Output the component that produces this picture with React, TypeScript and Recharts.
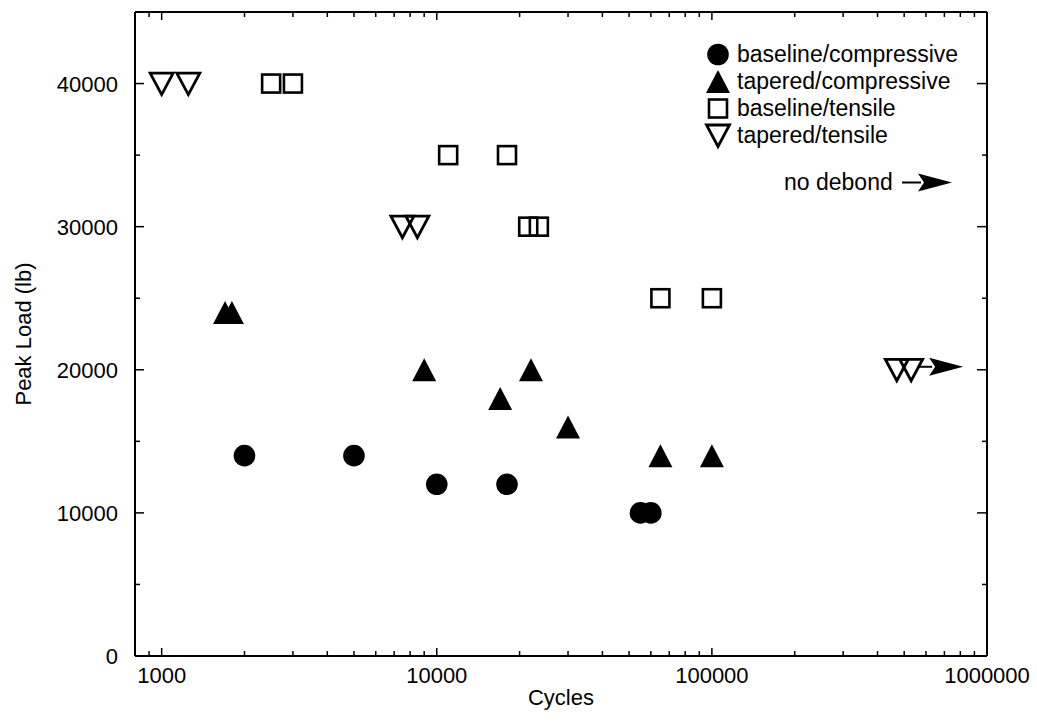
import React from 'react';
import { ScatterChart, Scatter, XAxis, YAxis, Legend } from 'recharts';

// fatigue results: cycles to debond vs peak load
const baselineCompressive = [
  { cycles: 2000, load: 14000 },
  { cycles: 5000, load: 14000 },
  { cycles: 10000, load: 12000 },
  { cycles: 18000, load: 12000 },
  { cycles: 55000, load: 10000 },
  { cycles: 60000, load: 10000 },
];

const taperedCompressive = [
  { cycles: 1700, load: 24000 },
  { cycles: 1800, load: 24000 },
  { cycles: 9000, load: 20000 },
  { cycles: 17000, load: 18000 },
  { cycles: 22000, load: 20000 },
  { cycles: 30000, load: 16000 },
  { cycles: 65000, load: 14000 },
  { cycles: 100000, load: 14000 },
];

const baselineTensile = [
  { cycles: 2500, load: 40000 },
  { cycles: 3000, load: 40000 },
  { cycles: 11000, load: 35000 },
  { cycles: 18000, load: 35000 },
  { cycles: 21500, load: 30000 },
  { cycles: 23500, load: 30000 },
  { cycles: 65000, load: 25000 },
  { cycles: 100000, load: 25000 },
];

// runout = specimen stopped without debonding
const taperedTensile = [
  { cycles: 1000, load: 40000 },
  { cycles: 1250, load: 40000 },
  { cycles: 7500, load: 30000 },
  { cycles: 8500, load: 30000 },
  { cycles: 470000, load: 20000 },
  { cycles: 530000, load: 20000, runout: true },
];

const xMajorTicks = [1000, 10000, 100000, 1000000];
const xMinorTicks = [
  900,
  2000, 3000, 4000, 5000, 6000, 7000, 8000, 9000,
  20000, 30000, 40000, 50000, 60000, 70000, 80000, 90000,
  200000, 300000, 400000, 500000, 600000, 700000, 800000, 900000,
];
const yMajorTicks = [0, 10000, 20000, 30000, 40000];
const yMinorTicks = [5000, 15000, 25000, 35000];

const xTicks = [...xMinorTicks, ...xMajorTicks].sort((a, b) => a - b);
const yTicks = [...yMinorTicks, ...yMajorTicks].sort((a, b) => a - b);

const FONT = '"Liberation Sans", Arial, Helvetica, sans-serif';
const INK = '#000';

const Dot = ({ cx, cy }: any) => <circle cx={cx} cy={cy} r={10.8} fill={INK} />;

const UpTriangle = ({ cx, cy }: any) => (
  <polygon
    points={`${cx - 12},${cy + 11.5} ${cx + 12},${cy + 11.5} ${cx},${cy - 11.5}`}
    fill={INK}
  />
);

const OpenSquare = ({ cx, cy }: any) => (
  <rect x={cx - 9} y={cy - 9} width={18} height={18} fill="none" stroke={INK} strokeWidth={2.6} />
);

// shaft + swept head, pointing right
const Arrow = ({ x, y, shaft }: { x: number; y: number; shaft: number }) => {
  const h = x + shaft;
  return (
    <g>
      <line x1={x} y1={y} x2={h} y2={y} stroke={INK} strokeWidth={2} />
      <polygon points={`${h - 3},${y - 9} ${h + 31},${y} ${h - 3},${y + 9} ${h + 3},${y}`} fill={INK} />
    </g>
  );
};

const DownTriangle = ({ cx, cy, payload }: any) => (
  <g>
    <polygon
      points={`${cx - 11.5},${cy - 10.5} ${cx + 11.5},${cy - 10.5} ${cx},${cy + 11}`}
      fill="none"
      stroke={INK}
      strokeWidth={2.8}
    />
    {payload && payload.runout && <Arrow x={cx + 8} y={cy - 3} shaft={13} />}
  </g>
);

const series = [
  { name: 'baseline/compressive', data: baselineCompressive, shape: Dot },
  { name: 'tapered/compressive', data: taperedCompressive, shape: UpTriangle },
  { name: 'baseline/tensile', data: baselineTensile, shape: OpenSquare },
  { name: 'tapered/tensile', data: taperedTensile, shape: DownTriangle },
];

const BottomTick = ({ x, y, payload }: any) => {
  const major = xMajorTicks.includes(payload.value);
  return (
    <g>
      <line x1={x} y1={y} x2={x} y2={y - (major ? 8 : 5)} stroke={INK} strokeWidth={1.5} />
      {major && (
        <text x={x} y={y + 27} textAnchor="middle" fontSize={22} fill={INK} fontFamily={FONT}>
          {payload.value}
        </text>
      )}
    </g>
  );
};

const TopTick = ({ x, y, payload }: any) => {
  const major = xMajorTicks.includes(payload.value);
  return <line x1={x} y1={y} x2={x} y2={y + (major ? 8 : 5)} stroke={INK} strokeWidth={1.5} />;
};

const LeftTick = ({ x, y, payload }: any) => {
  const major = yMajorTicks.includes(payload.value);
  return (
    <g>
      <line x1={x} y1={y} x2={x + (major ? 9 : 5)} y2={y} stroke={INK} strokeWidth={1.5} />
      {major && (
        <text x={x - 17} y={y + 8} textAnchor="end" fontSize={22} fill={INK} fontFamily={FONT}>
          {payload.value}
        </text>
      )}
    </g>
  );
};

const RightTick = ({ x, y, payload }: any) => {
  const major = yMajorTicks.includes(payload.value);
  return <line x1={x} y1={y} x2={x - (major ? 10 : 5)} y2={y} stroke={INK} strokeWidth={1.5} />;
};

const LegendBox = () => (
  <div style={{ fontFamily: FONT, fontSize: 23, color: INK }}>
    {series.map((s) => {
      const Shape = s.shape;
      return (
        <div key={s.name} style={{ display: 'flex', alignItems: 'center', height: 27 }}>
          <svg width={26} height={27} style={{ overflow: 'visible' }}>
            <Shape cx={13} cy={13.5} />
          </svg>
          <span style={{ marginLeft: 6, lineHeight: '27px' }}>{s.name}</span>
        </div>
      );
    })}
    <div style={{ display: 'flex', alignItems: 'center', height: 27, marginTop: 20, paddingLeft: 79 }}>
      <span style={{ lineHeight: '27px' }}>no debond</span>
      <svg width={54} height={27} style={{ marginLeft: 9, overflow: 'visible' }}>
        <Arrow x={0} y={13.5} shaft={19} />
      </svg>
    </div>
  </div>
);

const axisLine = { stroke: INK, strokeWidth: 2 };

export default function App() {
  return (
    <div style={{ position: 'absolute', left: 0, top: 0, background: '#fff', fontFamily: FONT }}>
      <ScatterChart width={1037} height={722} margin={{ top: 0, right: 0, bottom: 0, left: 0 }}>
        <XAxis
          xAxisId="bottom"
          dataKey="cycles"
          type="number"
          scale="log"
          domain={[800, 1000000]}
          allowDataOverflow
          ticks={xTicks}
          interval={0}
          tick={<BottomTick />}
          tickLine={false}
          tickSize={0}
          tickMargin={0}
          axisLine={axisLine}
          height={66}
          label={({ viewBox }: any) => (
            <text
              x={viewBox.x + viewBox.width / 2}
              y={viewBox.y + 49}
              textAnchor="middle"
              fontSize={22}
              fill={INK}
              fontFamily={FONT}
            >
              Cycles
            </text>
          )}
        />
        <XAxis
          xAxisId="top"
          orientation="top"
          dataKey="cycles"
          type="number"
          scale="log"
          domain={[800, 1000000]}
          allowDataOverflow
          ticks={xTicks}
          interval={0}
          tick={<TopTick />}
          tickLine={false}
          tickSize={0}
          tickMargin={0}
          axisLine={axisLine}
          height={12}
        />
        <YAxis
          yAxisId="left"
          dataKey="load"
          type="number"
          domain={[0, 45000]}
          allowDataOverflow
          ticks={yTicks}
          interval={0}
          tick={<LeftTick />}
          tickLine={false}
          tickSize={0}
          tickMargin={0}
          axisLine={axisLine}
          width={135}
          label={({ viewBox }: any) => {
            const lx = viewBox.x + 23;
            const ly = viewBox.y + viewBox.height / 2;
            return (
              <text
                x={lx}
                y={ly}
                transform={`rotate(-90, ${lx}, ${ly})`}
                textAnchor="middle"
                dominantBaseline="central"
                fontSize={22}
                fill={INK}
                fontFamily={FONT}
              >
                Peak Load (lb)
              </text>
            );
          }}
        />
        <YAxis
          yAxisId="right"
          orientation="right"
          dataKey="load"
          type="number"
          domain={[0, 45000]}
          allowDataOverflow
          ticks={yTicks}
          interval={0}
          tick={<RightTick />}
          tickLine={false}
          tickSize={0}
          tickMargin={0}
          axisLine={axisLine}
          width={50}
        />
        <Legend
          layout="vertical"
          align="center"
          verticalAlign="middle"
          wrapperStyle={{ left: 705, top: 41, width: 280 }}
          content={() => <LegendBox />}
        />
        {series.map((s) => (
          <Scatter
            key={s.name}
            name={s.name}
            data={s.data}
            xAxisId="bottom"
            yAxisId="left"
            shape={s.shape}
            isAnimationActive={false}
          />
        ))}
      </ScatterChart>
    </div>
  );
}
